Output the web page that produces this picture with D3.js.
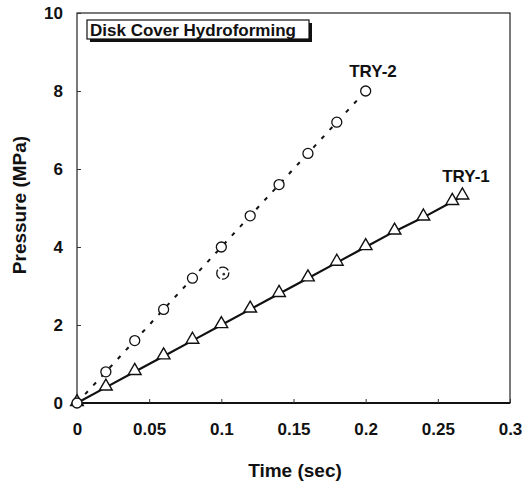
<!DOCTYPE html>
<html><head><meta charset="utf-8">
<script src="https://cdn.jsdelivr.net/npm/d3@7"></script>
<style>body{margin:0;background:#fff}svg{display:block}text{font-family:"Liberation Sans",Arial,sans-serif;font-weight:bold;fill:#111}</style>
</head><body><div id="chart"></div>
<script>
const try1Time = [0,0.02,0.04,0.06,0.08,0.10,0.12,0.14,0.16,0.18,0.20,0.22,0.24,0.26,0.267];
const try1Pressure = [0,0.4,0.8,1.2,1.6,2.0,2.4,2.8,3.2,3.6,4.0,4.4,4.76,5.16,5.3];
const try2Time = [0,0.02,0.04,0.06,0.08,0.10,0.12,0.14,0.16,0.18,0.20];
const try2Pressure = [0,0.8,1.6,2.4,3.2,4.0,4.8,5.6,6.4,7.2,8.0];
const strayTime = [0.101];
const strayPressure = [3.33];
const xTicks = [0,0.05,0.1,0.15,0.2,0.25,0.3];
const yTicks = [0,2,4,6,8,10];

const W=528,H=488;
const m={l:77,r:18,t:13,b:85};
const svg=d3.select("#chart").append("svg").attr("width",W).attr("height",H);
const x=d3.scaleLinear().domain([0,0.3]).range([m.l,W-m.r]);
const y=d3.scaleLinear().domain([0,10]).range([H-m.b,m.t]);

// frame
svg.append("rect").attr("x",x(0)).attr("y",y(10)).attr("width",x(0.3)-x(0)).attr("height",y(0)-y(10))
  .attr("fill","none").attr("stroke","#222").attr("stroke-width",1.2);
svg.append("line").attr("x1",x(0)).attr("x2",x(0.3)).attr("y1",y(0)).attr("y2",y(0)).attr("stroke","#111").attr("stroke-width",2);

const xa=svg.append("g").attr("transform",`translate(0,${y(0)})`)
  .call(d3.axisBottom(x).tickValues(xTicks).tickSize(-4).tickPadding(20).tickFormat(d=>d3.format("")(d)));
xa.select(".domain").remove();
xa.selectAll("text").attr("font-size",17).style("font-family","Liberation Sans, Arial").style("font-weight","bold");
xa.selectAll("line").attr("stroke","#333");
const ya=svg.append("g").attr("transform",`translate(${x(0)},0)`)
  .call(d3.axisLeft(y).tickValues(yTicks).tickSize(-4).tickPadding(14));
ya.select(".domain").remove();
ya.selectAll("text").attr("font-size",17).style("font-family","Liberation Sans, Arial").style("font-weight","bold");
ya.selectAll("line").attr("stroke","#333");

const t1=try1Time.map((t,i)=>[t,try1Pressure[i]]);
const t2=try2Time.map((t,i)=>[t,try2Pressure[i]]);
const line=d3.line().x(d=>x(d[0])).y(d=>y(d[1]));
svg.append("path").datum(t2).attr("d",line).attr("fill","none").attr("stroke","#111").attr("stroke-width",2).attr("stroke-dasharray","4,8");
svg.append("path").datum(t1).attr("d",line).attr("fill","none").attr("stroke","#111").attr("stroke-width",2.2);

const tri=d3.symbol().type(d3.symbolTriangle).size(70);
svg.selectAll(".tri").data(t1).join("path").attr("d",tri)
  .attr("transform",d=>`translate(${x(d[0])},${y(d[1])-1})`)
  .attr("fill","#fff").attr("stroke","#111").attr("stroke-width",1.4);
svg.selectAll(".circ").data(t2).join("circle").attr("cx",d=>x(d[0])).attr("cy",d=>y(d[1])).attr("r",5)
  .attr("fill","#fff").attr("stroke","#111").attr("stroke-width",1.3);
const stray=strayTime.map((t,i)=>[t,strayPressure[i]]);
svg.selectAll(".stray").data(stray).join("circle").attr("cx",d=>x(d[0])).attr("cy",d=>y(d[1])).attr("r",6)
  .attr("fill","#fff").attr("stroke","#111").attr("stroke-width",1.3).attr("stroke-dasharray","10,2");
svg.selectAll(".strayd").data(stray).join("circle").attr("cx",d=>x(d[0])+1).attr("cy",d=>y(d[1])+1).attr("r",1.3).attr("fill","#333");

// series labels
svg.append("text").attr("x",373).attr("y",77).attr("text-anchor","middle").attr("font-size",17).text("TRY-2");
svg.append("text").attr("x",466).attr("y",182).attr("text-anchor","middle").attr("font-size",17).text("TRY-1");

// title box
svg.append("rect").attr("x",90).attr("y",23).attr("width",222).attr("height",19).attr("fill","#111");
svg.append("rect").attr("x",87).attr("y",20).attr("width",222).attr("height",19).attr("fill","#fff").attr("stroke","#111").attr("stroke-width",1.2);
svg.append("text").attr("x",90).attr("y",36).attr("font-size",17).text("Disk Cover Hydroforming");

// axis titles
svg.append("text").attr("x",295).attr("y",477).attr("text-anchor","middle").attr("font-size",19).text("Time (sec)");
svg.append("text").attr("transform",`translate(26,205) rotate(-90)`).attr("text-anchor","middle").attr("font-size",19).text("Pressure (MPa)");
</script></body></html>
